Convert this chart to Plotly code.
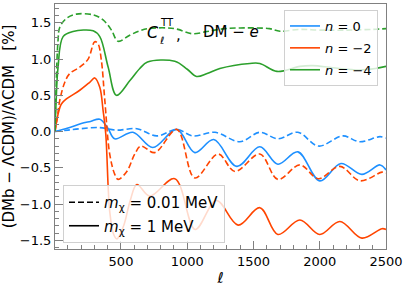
import plotly.graph_objects as go

# ---------------- data ----------------
ell_n0_dash = [2, 100, 200, 340, 468, 620, 770, 921, 1042, 1210, 1397, 1548, 1684, 1835, 1990, 2175, 2300, 2455, 2500]
val_n0_dash = [0, 0.02, 0.04, 0.055, 0.02, 0.04, -0.06, 0.03, -0.06, -0.01, -0.14, -0.01, -0.10, -0.01, -0.20, -0.06, -0.14, -0.07, -0.09]

ell_n0_sol = [2, 100, 200, 270, 340, 400, 453, 590, 740, 921, 1057, 1200, 1374, 1548, 1684, 1835, 2000, 2160, 2318, 2455, 2500]
val_n0_sol = [0, 0.05, 0.11, 0.14, 0.17, 0.05, -0.10, -0.01, -0.22, 0.03, -0.29, -0.11, -0.48, -0.21, -0.45, -0.28, -0.68, -0.44, -0.59, -0.46, -0.53]

ell_n2_dash = [2, 20, 38, 76, 113, 189, 252, 302, 327, 352, 378, 415, 453, 478, 544, 604, 650, 755, 921, 1057, 1233, 1360, 1548, 1684, 1850, 1990, 2152, 2304, 2470, 2500]
val_n2_dash = [0, 0.2, 0.43, 0.68, 0.80, 0.89, 1.0, 1.24, 1.21, 0.98, 0.43, -0.31, -0.59, -0.66, -0.55, -0.31, -0.2, -0.29, 0.03, -0.64, -0.31, -0.55, -0.31, -0.66, -0.46, -0.65, -0.48, -0.68, -0.56, -0.57]

ell_n2_sol = [2, 12, 25, 50, 88, 189, 264, 302, 340, 365, 385, 415, 445, 470, 520, 570, 620, 717, 906, 1060, 1220, 1384, 1548, 1684, 1850, 2000, 2152, 2318, 2470, 2500]
val_n2_sol = [0, 0.12, 0.24, 0.38, 0.45, 0.57, 0.68, 0.74, 0.61, 0.29, -0.03, -1.1, -1.42, -1.48, -1.3, -0.95, -0.73, -0.89, -0.65, -1.35, -0.95, -1.29, -1.05, -1.42, -1.22, -1.42, -1.24, -1.47, -1.34, -1.35]

ell_n4_dash = [2, 10, 25, 38, 88, 164, 290, 365, 428, 478, 566, 642, 700, 850, 930, 1035, 1150, 1284, 1450, 1620, 1700, 1850, 2000, 2200, 2400, 2500]
val_n4_dash = [0, 0.6, 1.26, 1.44, 1.56, 1.62, 1.61, 1.54, 1.40, 1.245, 1.33, 1.39, 1.42, 1.43, 1.41, 1.35, 1.38, 1.42, 1.43, 1.42, 1.385, 1.41, 1.40, 1.40, 1.41, 1.42]

ell_n4_sol = [2, 10, 25, 63, 138, 290, 340, 403, 466, 566, 642, 700, 906, 1000, 1070, 1150, 1246, 1473, 1548, 1677, 1850, 1950, 2100, 2300, 2420, 2500]
val_n4_sol = [0, 0.4, 0.89, 1.31, 1.38, 1.39, 1.31, 0.89, 0.50, 0.70, 0.87, 0.96, 0.97, 0.86, 0.76, 0.80, 0.87, 0.94, 0.94, 0.83, 0.90, 0.91, 0.88, 0.85, 0.87, 0.90]

labels_n = ["<i>n</i> = 0", "<i>n</i> = −2", "<i>n</i> = −4"]
labels_m = ["<i>m</i><sub>χ</sub> = 0.01 MeV", "<i>m</i><sub>χ</sub> = 1 MeV"]

BLUE = "#1e90ff"
RED = "#ff4500"
GREEN = "#2ca02c"
DASH = "6px,3px"
LW = 1.6

fig = go.Figure()

series = [
    (ell_n0_dash, val_n0_dash, ell_n0_sol, val_n0_sol, BLUE, labels_n[0]),
    (ell_n2_dash, val_n2_dash, ell_n2_sol, val_n2_sol, RED, labels_n[1]),
    (ell_n4_dash, val_n4_dash, ell_n4_sol, val_n4_sol, GREEN, labels_n[2]),
]
for i, (xd, yd, xs, ys, col, lab) in enumerate(series):
    fig.add_trace(go.Scatter(x=xd, y=yd, mode="lines", line=dict(color=col, width=LW, dash=DASH, shape="spline", smoothing=1.0),
                             showlegend=False, hoverinfo="skip"))
    fig.add_trace(go.Scatter(x=xs, y=ys, mode="lines", line=dict(color=col, width=LW, shape="spline", smoothing=1.0),
                             name=lab, legend="legend", legendgroup="g%d" % i, showlegend=True))

# legend-only traces for mass
fig.add_trace(go.Scatter(x=[None], y=[None], mode="lines", line=dict(color="black", width=LW, dash=DASH),
                         name=labels_m[0], legend="legend2", legendgroup="m0"))
fig.add_trace(go.Scatter(x=[None], y=[None], mode="lines", line=dict(color="black", width=LW),
                         name=labels_m[1], legend="legend2", legendgroup="m1"))

L, R, T, B = 55, 386, 4, 249
def px(xp):
    return (xp - L) / (R - L)
def py(yp):
    return (B - yp) / (B - T)

axis_common = dict(showline=True, linecolor="gray", linewidth=1, mirror=True, showgrid=False, zeroline=False,
                   ticks="inside", tickcolor="gray", tickwidth=1, tickfont=dict(size=13, color="black"))

fig.update_layout(
    width=407, height=289,
    margin=dict(l=L, r=407 - R, t=T, b=289 - B, autoexpand=False),
    plot_bgcolor="white", paper_bgcolor="white",
    font=dict(family="DejaVu Sans", size=13, color="black"),
    xaxis=dict(range=[2, 2500], tickmode="linear", tick0=0, dtick=500, ticklen=8,
               minor=dict(dtick=100, tick0=0, ticks="inside", ticklen=4, tickcolor="gray"),
               title=dict(text="<i>ℓ</i>", font=dict(size=15), standoff=4),
               **axis_common),
    yaxis=dict(range=[-1.62, 1.76], tickmode="linear", tick0=0, dtick=0.5, tickformat=".1f", ticklen=8,
               minor=dict(dtick=0.1, tick0=0, ticks="inside", ticklen=4, tickcolor="gray"),
               title=dict(text="(DMb − ΛCDM)/ΛCDM\u00a0\u00a0\u00a0[%]", font=dict(size=15), standoff=6),
               **axis_common),
    legend=dict(x=px(378), y=py(10), xanchor="right", yanchor="top", bgcolor="rgba(255,255,255,0.8)",
                bordercolor="#d0d0d0", borderwidth=1, font=dict(size=13), tracegroupgap=2),
    legend2=dict(x=px(63), y=py(243), xanchor="left", yanchor="bottom", bgcolor="rgba(255,255,255,0.8)",
                 bordercolor="#d0d0d0", borderwidth=1, font=dict(size=15), tracegroupgap=1),
)

ann = [
    dict(text="<i>C</i>", x=px(153), y=py(32), size=16),
    dict(text="TT", x=px(167), y=py(22), size=10),
    dict(text="<i>ℓ</i>", x=px(162), y=py(40), size=10),
    dict(text=",", x=px(178), y=py(35), size=15),
    dict(text="DM − <i>e</i>", x=px(231), y=py(32), size=15),
]
for a in ann:
    fig.add_annotation(text=a["text"], x=a["x"], y=a["y"], xref="paper", yref="paper", showarrow=False,
                       font=dict(size=a["size"], color="black"), xanchor="center", yanchor="middle")

fig.write_html("out.html", config={"displayModeBar": False},
               post_script="document.body.style.margin='0';document.body.style.padding='0';")
